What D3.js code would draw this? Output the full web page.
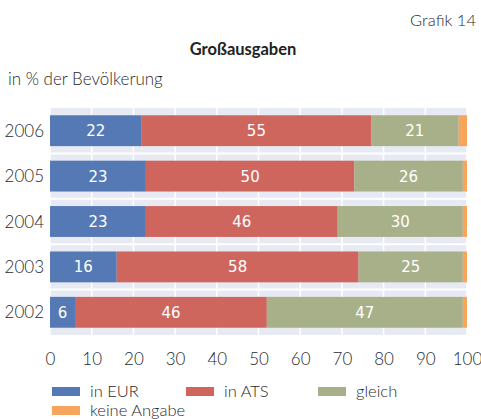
<!DOCTYPE html>
<html>
<head>
<meta charset="utf-8">
<script src="https://cdn.jsdelivr.net/npm/d3@7"></script>
<style>
  body { margin: 0; background: #fff; }
  svg { display: block; font-family: "Lato", "Open Sans", sans-serif; }
</style>
</head>
<body>
<div id="chart"></div>
<script>
const years = ['2006', '2005', '2004', '2003', '2002'];
const seriesNames = ['in EUR', 'in ATS', 'gleich', 'keine Angabe'];
const inEur = [22, 23, 23, 16, 6];
const inAts = [55, 50, 46, 58, 46];
const gleich = [21, 26, 30, 25, 47];
const keineAngabe = [2, 1, 1, 1, 1];
const xTicks = [0, 10, 20, 30, 40, 50, 60, 70, 80, 90, 100];

const colors = ['#5579b4', '#cf665e', '#a7b089', '#f5a65c'];
const plotBg = '#e8eaf3';
const textColor = '#2a2a2a';

const width = 481, height = 419;
const margin = {top: 108, right: 14, bottom: 84, left: 50};

const rows = years.map((y, i) => ({
  year: y,
  'in EUR': inEur[i],
  'in ATS': inAts[i],
  'gleich': gleich[i],
  'keine Angabe': keineAngabe[i]
}));

const stacked = d3.stack().keys(seriesNames)(rows);

const svg = d3.select('#chart')
  .append('svg')
  .attr('width', width)
  .attr('height', height);

const x = d3.scaleLinear()
  .domain([0, 100])
  .range([margin.left, 467]);

const y = d3.scaleBand()
  .domain(years)
  .range([margin.top, 335])
  .paddingInner(0.32)
  .paddingOuter(0.16);

// header texts
svg.append('text')
  .attr('x', 476)
  .attr('y', 26)
  .attr('text-anchor', 'end')
  .attr('font-size', 16.5)
  .attr('font-weight', 300)
  .attr('fill', textColor)
  .text('Grafik 14');

svg.append('text')
  .attr('x', 243)
  .attr('y', 55)
  .attr('text-anchor', 'middle')
  .attr('font-size', 16.5)
  .attr('font-weight', 'bold')
  .attr('fill', '#222')
  .text('Großausgaben');

svg.append('text')
  .attr('x', 8)
  .attr('y', 85)
  .attr('font-size', 17)
  .attr('font-weight', 300)
  .attr('fill', textColor)
  .text('in % der Bevölkerung');

// plot background
svg.append('rect')
  .attr('x', x(0))
  .attr('y', margin.top)
  .attr('width', x(100) - x(0))
  .attr('height', 335 - margin.top)
  .attr('fill', plotBg);

// vertical grid lines
svg.append('g')
  .selectAll('line')
  .data(xTicks)
  .join('line')
  .attr('x1', d => x(d))
  .attr('x2', d => x(d))
  .attr('y1', margin.top)
  .attr('y2', 335)
  .attr('stroke', '#fff')
  .attr('stroke-width', 1.5);

// horizontal separators between rows
const step = y.step();
svg.append('g')
  .selectAll('line')
  .data(years.slice(1))
  .join('line')
  .attr('x1', x(0))
  .attr('x2', x(100))
  .attr('y1', d => y(d) - step * y.paddingInner() / 2)
  .attr('y2', d => y(d) - step * y.paddingInner() / 2)
  .attr('stroke', '#fff')
  .attr('stroke-width', 2);

// bars
const layers = svg.append('g')
  .selectAll('g')
  .data(stacked)
  .join('g')
  .attr('fill', (d, i) => colors[i]);

layers.selectAll('rect')
  .data(d => d)
  .join('rect')
  .attr('x', d => x(d[0]))
  .attr('y', d => y(d.data.year))
  .attr('width', d => x(d[1]) - x(d[0]))
  .attr('height', y.bandwidth());

// value labels (skip "keine Angabe")
layers.filter((d, i) => i < 3)
  .selectAll('text')
  .data(d => d)
  .join('text')
  .attr('x', d => (x(d[0]) + x(d[1])) / 2)
  .attr('y', d => y(d.data.year) + y.bandwidth() / 2)
  .attr('dy', '0.36em')
  .attr('text-anchor', 'middle')
  .attr('font-family', '"DejaVu Sans", sans-serif')
  .attr('font-size', 15)
  .attr('fill', '#fff')
  .text(d => d[1] - d[0]);

// y axis labels
svg.append('g')
  .selectAll('text')
  .data(years)
  .join('text')
  .attr('x', 44)
  .attr('y', d => y(d) + y.bandwidth() / 2)
  .attr('dy', '0.36em')
  .attr('text-anchor', 'end')
  .attr('font-size', 17)
  .attr('font-weight', 300)
  .attr('fill', textColor)
  .text(d => d);

// x axis
const xAxis = svg.append('g')
  .attr('transform', 'translate(0,353)')
  .call(d3.axisBottom(x).tickValues(xTicks).tickSize(0).tickPadding(0));
xAxis.select('.domain').remove();
xAxis.selectAll('text')
  .attr('font-size', 17)
  .attr('font-weight', 300)
  .attr('font-family', '"Lato", "Open Sans", sans-serif')
  .attr('fill', textColor)
  .attr('dy', '0.71em');

// legend
const legendPos = [[52, 387], [186, 387], [318, 387], [52, 406]];
const legend = svg.append('g')
  .selectAll('g')
  .data(seriesNames)
  .join('g')
  .attr('transform', (d, i) => `translate(${legendPos[i][0]},${legendPos[i][1]})`);

legend.append('rect')
  .attr('width', 28)
  .attr('height', 9)
  .attr('fill', (d, i) => colors[i]);

legend.append('text')
  .attr('x', 38)
  .attr('y', 4.5)
  .attr('dy', '0.36em')
  .attr('font-size', 16.5)
  .attr('font-weight', 300)
  .attr('fill', textColor)
  .text(d => d);
</script>
</body>
</html>
